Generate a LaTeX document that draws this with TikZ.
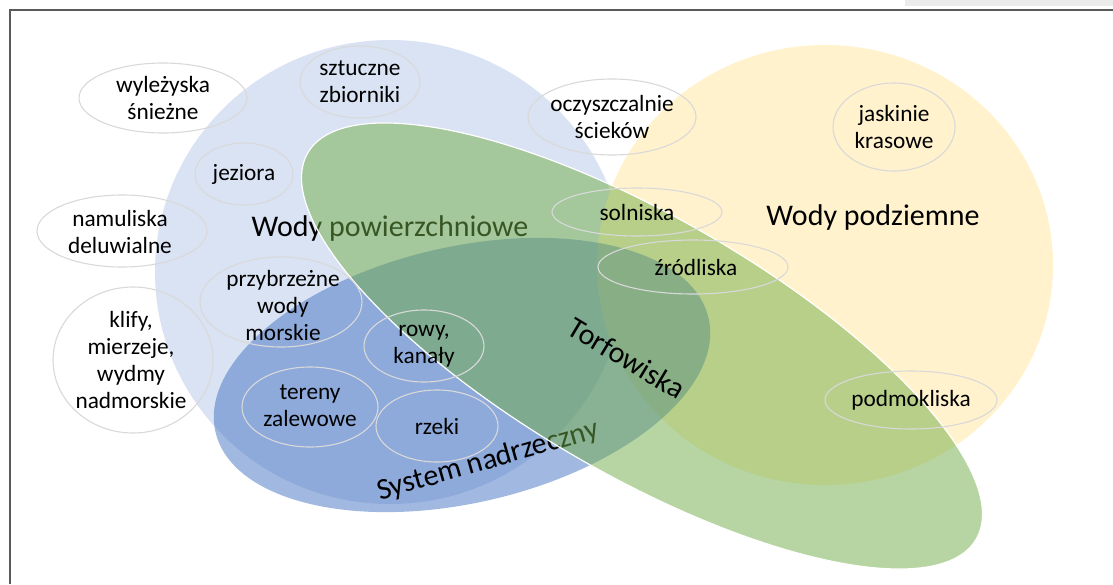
\documentclass[tikz,border=0pt]{standalone}
\usepackage{fontspec}
\setmainfont{Carlito}
\definecolor{lblue}{HTML}{DAE3F3}
\definecolor{yel}{HTML}{FFF2CC}
\definecolor{grn}{HTML}{70AD47}
\definecolor{blu}{HTML}{4472C4}
\definecolor{framec}{HTML}{5A5A5A}
\definecolor{oline}{HTML}{D9D9D9}
\definecolor{topgray}{HTML}{EBEBEB}
\begin{document}
\begin{tikzpicture}[x=1pt,y=-1pt,
  smallell/.style={draw=oline, line width=1.1pt},
  lbl/.style={align=center, font=\fontsize{23.3}{27}\selectfont, inner sep=0pt, text=black},
  big/.style={font=\fontsize{30}{36}\selectfont, inner sep=0pt, text=black}]
\useasboundingbox (0,0) rectangle (1113,584);
\fill[white] (0,0) rectangle (1113,584);
\fill[topgray] (905,0) rectangle (1113,6);
\draw[framec, line width=2pt] (1113,10) -- (10,10) -- (10,584);

% big sets
\fill[lblue] (390,272) ellipse [x radius=235pt, y radius=232pt];
\fill[yel] (825,265) ellipse [x radius=228pt, y radius=220pt];
\fill[blu, fill opacity=0.5, rotate around={13:(462,375)}] (462,375) ellipse [x radius=253pt, y radius=128pt];

\node[big] (wp) at (390,228) {Wody powierzchniowe};
\node[big, rotate=16] (sn) at (488,461) {System nadrzeczny};

\filldraw[fill=grn, fill opacity=0.5, draw=white, line width=1.2pt, rotate around={-30:(642,346)}] (642,346) ellipse [x radius=386pt, y radius=129pt];

\node[big] (wpod) at (873,217) {Wody podziemne};
\node[big, rotate=-31] (torf) at (627,358) {Torfowiska};

% small ellipses
\draw[smallell] (163,98) ellipse [x radius=84pt, y radius=35pt];
\node[lbl] (wyl) at (163,98) {wyleżyska\\śnieżne};
\draw[smallell] (360,82) ellipse [x radius=60pt, y radius=36pt];
\node[lbl] (szt) at (360,82) {sztuczne\\zbiorniki};
\draw[smallell] (244,174) ellipse [x radius=49pt, y radius=31pt];
\node[lbl] (jez) at (244,174) {jeziora};
\draw[smallell] (122,231) ellipse [x radius=85pt, y radius=36pt];
\node[lbl] (nam) at (120,232) {namuliska\\deluwialne};
\draw[smallell] (281,302) ellipse [x radius=81pt, y radius=45pt];
\node[lbl] (prz) at (283,305) {przybrzeżne\\wody\\morskie};
\draw[smallell] (133,360) ellipse [x radius=80pt, y radius=73pt];
\node[lbl] (kli) at (131,360) {klify,\\mierzeje,\\wydmy\\nadmorskie};
\draw[smallell] (424,346) ellipse [x radius=60pt, y radius=36pt];
\node[lbl] (row) at (424,346) {rowy,\\kanały};
\draw[smallell] (310,407) ellipse [x radius=68pt, y radius=40pt];
\node[lbl] (ter) at (310,406) {tereny\\zalewowe};
\draw[smallell] (437,426) ellipse [x radius=61pt, y radius=36pt];
\node[lbl] (rze) at (437,426) {rzeki};
\draw[smallell] (612,117) ellipse [x radius=84pt, y radius=38pt];
\node[lbl] (ocz) at (612,117) {oczyszczalnie\\ścieków};
\draw[smallell] (637,212) ellipse [x radius=85pt, y radius=24pt];
\node[lbl] (sol) at (637,212) {solniska};
\draw[smallell] (693,267) ellipse [x radius=95pt, y radius=27pt];
\node[lbl] (zro) at (696,267) {źródliska};
\draw[smallell] (894,127) ellipse [x radius=61pt, y radius=44pt];
\node[lbl] (jas) at (894,127) {jaskinie\\krasowe};
\draw[smallell] (911,400) ellipse [x radius=86pt, y radius=29pt];
\node[lbl] (pod) at (911,400) {podmokliska};
\end{tikzpicture}
\end{document}
